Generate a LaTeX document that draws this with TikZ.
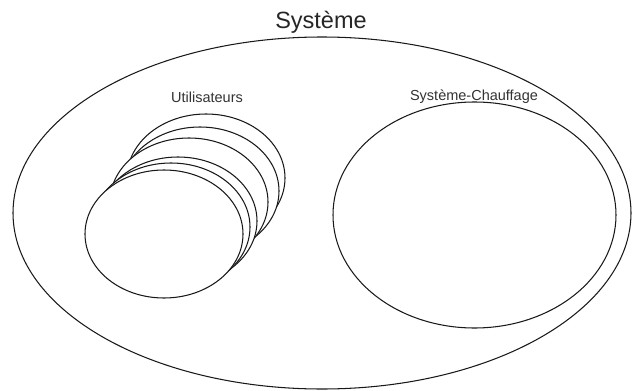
\documentclass[tikz,border=0pt]{standalone}
\usepackage{fontspec}
\setmainfont{Liberation Sans}
\usetikzlibrary{shapes.geometric}
\begin{document}
\begin{tikzpicture}[x=1pt,y=-1pt,
  oval/.style={ellipse,draw=black!90,line width=1.05pt,fill=white,inner sep=0pt},
  user/.style={oval,minimum width=158pt,minimum height=128pt},
  lbl/.style={anchor=base,inner sep=0pt,font=\fontsize{14.5}{14.5}\selectfont,text=black!80}]
\useasboundingbox[fill=white] (0,0) rectangle (633,391);
\node[oval,minimum width=618pt,minimum height=352pt] (sys) at (322,213) {};
\node[anchor=base,inner sep=0pt,font=\fontsize{23.5}{23.5}\selectfont,text=black!85] (title) at (321,28.5) {Système};
\node[oval,minimum width=283pt,minimum height=226pt] (chauf) at (474.5,215) {};
\node[lbl] (chaufl) at (474,100) {Système-Chauffage};
\node[lbl] (userl) at (207,102.5) {Utilisateurs};
\node[user] (u1) at (206,178) {};
\node[user] (u2) at (200,191) {};
\node[user] (u3) at (189,202) {};
\node[user] (u4) at (178,221) {};
\node[user] (u5) at (171,227) {};
\node[user] (u6) at (164,234) {};
\end{tikzpicture}
\end{document}
